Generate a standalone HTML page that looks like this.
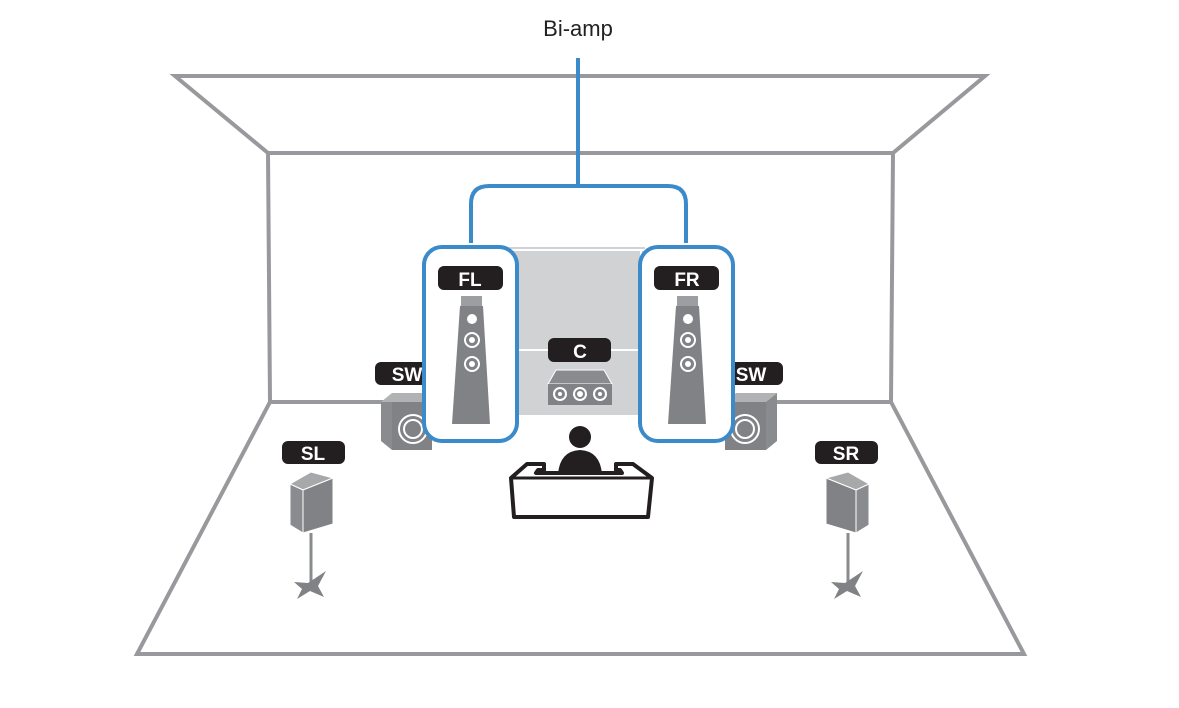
<!DOCTYPE html>
<html><head><meta charset="utf-8"><style>
html,body{margin:0;padding:0;background:#fff;}
svg{display:block;}
text{font-family:"Liberation Sans",sans-serif;}
</style></head><body>
<svg width="1179" height="708" viewBox="0 0 1179 708" xmlns="http://www.w3.org/2000/svg">
<text x="578" y="36" font-size="22" text-anchor="middle" fill="#222">Bi-amp</text>
<g fill="none" stroke="#98999c" stroke-width="4" stroke-linejoin="miter">
<polygon points="175,76 985,76 893,153 268,153"/>
<line x1="268" y1="153" x2="270" y2="402"/>
<line x1="893" y1="153" x2="891" y2="402"/>
<polygon points="270,402 891,402 1024,654 137,654"/>
</g>
<rect x="508" y="247" width="137" height="168" fill="#d1d2d4"/>
<line x1="508" y1="250" x2="645" y2="250" stroke="#fff" stroke-width="2"/>
<line x1="508" y1="350" x2="645" y2="350" stroke="#fff" stroke-width="2"/>
<line x1="512" y1="250" x2="512" y2="415" stroke="#fff" stroke-width="2"/>
<line x1="641" y1="250" x2="641" y2="415" stroke="#fff" stroke-width="2"/>
<rect x="375" y="362" width="65" height="23" rx="6" fill="#231f20"/>
<text x="407" y="381" font-size="19" font-weight="bold" fill="#fff" text-anchor="middle">SW</text>
<polygon points="381,402 392,393 432,393 432,402" fill="#b1b2b4"/>
<polygon points="381,402 392,402 392,450 381,441" fill="#8a8b8e"/>
<rect x="392" y="402" width="40" height="48" fill="#818285"/>
<circle cx="413" cy="429" r="14" fill="none" stroke="#fff" stroke-width="2"/>
<circle cx="413" cy="429" r="9" fill="none" stroke="#fff" stroke-width="2"/>
<rect x="718" y="362" width="65" height="23" rx="6" fill="#231f20"/>
<text x="751" y="381" font-size="19" font-weight="bold" fill="#fff" text-anchor="middle">SW</text>
<polygon points="725,402 736,393 777,393 766,402" fill="#b1b2b4"/>
<polygon points="766,402 777,393 777,441 766,450" fill="#8a8b8e"/>
<rect x="725" y="402" width="41" height="48" fill="#818285"/>
<circle cx="745" cy="429" r="14" fill="none" stroke="#fff" stroke-width="2"/>
<circle cx="745" cy="429" r="9" fill="none" stroke="#fff" stroke-width="2"/>
<rect x="548" y="338" width="63" height="24" rx="6" fill="#231f20"/>
<text x="580" y="358" font-size="19" font-weight="bold" fill="#fff" text-anchor="middle">C</text>
<polygon points="548,384 556,370 604,370 612,384" fill="#8a8b8e" stroke="#fff" stroke-width="1"/>
<rect x="548" y="384" width="64" height="21" fill="#818285"/>
<g fill="none" stroke="#fff" stroke-width="2"><circle cx="560" cy="394" r="6"/><circle cx="580" cy="394" r="6"/><circle cx="600" cy="394" r="6"/></g>
<g fill="#fff"><circle cx="560" cy="394" r="2"/><circle cx="580" cy="394" r="3"/><circle cx="600" cy="394" r="2"/></g>
<g fill="none" stroke="#3b8bcb" stroke-width="4">
<line x1="578" y1="58" x2="578" y2="186"/>
<path d="M471,243 V204 Q471,186 489,186 H668 Q686,186 686,204 V243"/>
<rect x="424" y="247" width="93" height="194" rx="18" fill="#fff"/>
<rect x="640" y="247" width="93" height="194" rx="18" fill="#fff"/>
</g>
<rect x="438" y="266" width="65" height="24" rx="6" fill="#231f20"/>
<text x="470" y="286" font-size="19" font-weight="bold" fill="#fff" text-anchor="middle">FL</text>
<polygon points="461,296 482,296 482,306 461,306" fill="#9d9ea1"/>
<polygon points="460,306 483,306 490,424 452,424" fill="#818285"/>
<circle cx="472" cy="319" r="5" fill="#fff"/>
<circle cx="472" cy="340" r="7" fill="none" stroke="#fff" stroke-width="2"/><circle cx="472" cy="340" r="3" fill="#fff"/>
<circle cx="472" cy="364" r="7" fill="none" stroke="#fff" stroke-width="2"/><circle cx="472" cy="364" r="3" fill="#fff"/>
<rect x="654" y="266" width="65" height="24" rx="6" fill="#231f20"/>
<text x="687" y="286" font-size="19" font-weight="bold" fill="#fff" text-anchor="middle">FR</text>
<polygon points="677,296 698,296 698,306 677,306" fill="#9d9ea1"/>
<polygon points="676,306 699,306 706,424 668,424" fill="#818285"/>
<circle cx="688" cy="319" r="5" fill="#fff"/>
<circle cx="688" cy="340" r="7" fill="none" stroke="#fff" stroke-width="2"/><circle cx="688" cy="340" r="3" fill="#fff"/>
<circle cx="688" cy="364" r="7" fill="none" stroke="#fff" stroke-width="2"/><circle cx="688" cy="364" r="3" fill="#fff"/>
<circle cx="580" cy="437" r="11" fill="#231f20"/>
<path d="M558,474 Q560,451 580,450 Q600,451 602,474 Z" fill="#231f20"/>
<path d="M511,478 L527,464 H544 V470 L538,470 L536,473 H622 L620,470 L616,470 V464 H633 L652,478 L648,517 H514 Z" fill="#fff" stroke="#231f20" stroke-width="4" stroke-linejoin="round"/>
<path d="M558,474 Q560,460 570,456 L590,456 Q600,460 602,474 Z" fill="#231f20"/>
<line x1="511" y1="478" x2="652" y2="478" stroke="#231f20" stroke-width="3"/>
<rect x="282" y="441" width="63" height="23" rx="6" fill="#231f20"/>
<text x="313" y="460" font-size="19" font-weight="bold" fill="#fff" text-anchor="middle">SL</text>
<polygon points="290,484 311,472 333,478 303,490" fill="#a7a8aa" stroke="#fff" stroke-width="1"/>
<polygon points="290,484 303,490 303,533 290,525" fill="#8a8b8e" stroke="#fff" stroke-width="1"/>
<polygon points="303,490 333,478 333,524 303,533" fill="#818285" stroke="#fff" stroke-width="1"/>
<line x1="311" y1="533" x2="311" y2="584" stroke="#8a8b8e" stroke-width="3"/>
<path d="M294,582 L308,583 L326,571 L318,586 L324,597 L310,591 L297,599 L302,589 Z" fill="#818285"/>
<rect x="815" y="441" width="63" height="23" rx="6" fill="#231f20"/>
<text x="846" y="460" font-size="19" font-weight="bold" fill="#fff" text-anchor="middle">SR</text>
<polygon points="826,478 848,472 869,484 856,490" fill="#a7a8aa" stroke="#fff" stroke-width="1"/>
<polygon points="856,490 869,484 869,525 856,533" fill="#8a8b8e" stroke="#fff" stroke-width="1"/>
<polygon points="826,478 856,490 856,533 826,524" fill="#818285" stroke="#fff" stroke-width="1"/>
<line x1="848" y1="533" x2="848" y2="584" stroke="#8a8b8e" stroke-width="3"/>
<path d="M831,582 L845,583 L863,571 L855,586 L861,597 L847,591 L834,599 L839,589 Z" fill="#818285"/>
</svg>
</body></html>
